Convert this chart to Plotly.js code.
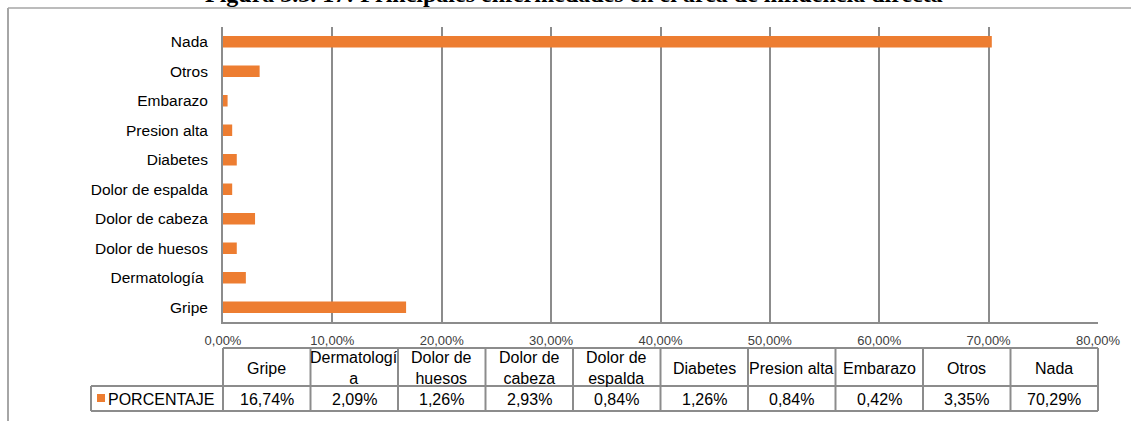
<!DOCTYPE html>
<html>
<head>
<meta charset="utf-8">
<script src="https://cdn.plot.ly/plotly-3.0.1.min.js"></script>
<style>html,body{margin:0;padding:0;background:#fff;}#chart{width:1131px;height:421px;}</style>
</head>
<body>
<div id="chart"></div>
<script>
// ---- data ----
const categories = ["Gripe", "Dermatología ", "Dolor de huesos", "Dolor de cabeza", "Dolor de espalda", "Diabetes", "Presion alta", "Embarazo", "Otros", "Nada"];
const headerLabels = ["Gripe", "Dermatologí<br>a", "Dolor de<br>huesos", "Dolor de<br>cabeza", "Dolor de<br>espalda", "Diabetes", "Presion alta", "Embarazo", "Otros", "Nada"];
const porcentaje = [16.74, 2.09, 1.26, 2.93, 0.84, 1.26, 0.84, 0.42, 3.35, 70.29];
const seriesName = "PORCENTAJE";
const xTicks = [0, 10, 20, 30, 40, 50, 60, 70, 80];
const titleText = "Figura 3.3. 17: Principales enfermedades en el área de influencia directa";

const fmtPct = v => v.toFixed(2).replace(".", ",") + "%";

// ---- layout geometry (pixels) ----
const W = 1131, H = 421;
const L = 223, R = 1098, T = 27, B = 322;
const pw = R - L, ph = B - T;
const px = p => (p - L) / pw;
const py = p => (B - p) / ph;

const ORANGE = "#ED7D31";
const GRID = "#8c8c8c";
const BORDER = "#8c8c8c";
const FONT = "Liberation Sans, Arial, sans-serif";

const tableTop = 348, tableMid = 386, tableBot = 411, legendLeft = 91;

const shapes = [];
const annotations = [];
const n = categories.length;

// outer chart border (left + top)
shapes.push({type: "line", xref: "paper", yref: "paper", x0: px(8), x1: px(8), y0: py(8), y1: py(430), line: {color: "#a6a6a6", width: 2}});
shapes.push({type: "line", xref: "paper", yref: "paper", x0: px(8), x1: px(1140), y0: py(8), y1: py(8), line: {color: "#a6a6a6", width: 1.5}});

// table horizontal lines
shapes.push({type: "line", xref: "paper", yref: "paper", x0: 0, x1: 1, y0: py(tableTop), y1: py(tableTop), line: {color: BORDER, width: 2}});
shapes.push({type: "line", xref: "paper", yref: "paper", x0: px(legendLeft), x1: 1, y0: py(tableMid), y1: py(tableMid), line: {color: BORDER, width: 2}});
shapes.push({type: "line", xref: "paper", yref: "paper", x0: px(legendLeft), x1: 1, y0: py(tableBot), y1: py(tableBot), line: {color: BORDER, width: 2}});
// legend cell left
shapes.push({type: "line", xref: "paper", yref: "paper", x0: px(legendLeft), x1: px(legendLeft), y0: py(tableMid), y1: py(tableBot), line: {color: BORDER, width: 2}});
// vertical column lines
for (let i = 0; i <= n; i++) {
  const xf = i / n;
  shapes.push({type: "line", xref: "paper", yref: "paper", x0: xf, x1: xf, y0: py(tableTop), y1: py(tableBot), line: {color: BORDER, width: 2}});
}
// legend marker
shapes.push({type: "rect", xref: "paper", yref: "paper", x0: px(97), x1: px(105), y0: py(394), y1: py(402), fillcolor: ORANGE, line: {width: 0}});
annotations.push({xref: "paper", yref: "paper", x: px(106), y: py((tableMid + tableBot) / 2 + 1), xanchor: "left", yanchor: "middle", text: seriesName, showarrow: false, font: {family: FONT, size: 16, color: "#000"}});

// header + values
for (let i = 0; i < n; i++) {
  const xc = (i + 0.5) / n;
  annotations.push({xref: "paper", yref: "paper", x: xc, y: py((tableTop + tableMid) / 2 + 1), xanchor: "center", yanchor: "middle", text: headerLabels[i], showarrow: false, font: {family: FONT, size: 16, color: "#000"}});
  annotations.push({xref: "paper", yref: "paper", x: xc, y: py((tableMid + tableBot) / 2 + 1), xanchor: "center", yanchor: "middle", text: fmtPct(porcentaje[i]), showarrow: false, font: {family: FONT, size: 16, color: "#000"}});
}

// title (cut off at top)
annotations.push({xref: "paper", yref: "paper", x: px(574), y: py(9), xanchor: "center", yanchor: "bottom", text: "<b>" + titleText + "</b>", showarrow: false, font: {family: "Liberation Serif, Times New Roman, serif", size: 24, color: "#000"}});

const trace = {
  type: "bar",
  orientation: "h",
  x: porcentaje,
  y: categories,
  name: seriesName,
  marker: {color: ORANGE},
  width: 0.39,
  hoverinfo: "x+y"
};

const layout = {
  width: W, height: H,
  margin: {l: L, r: W - R, t: T, b: H - B, pad: 0},
  paper_bgcolor: "#fff", plot_bgcolor: "#fff",
  separators: ",.",
  showlegend: false,
  xaxis: {
    range: [0, 80], tickmode: "array", tickvals: xTicks, ticktext: xTicks.map(fmtPct),
    showgrid: true, gridcolor: GRID, gridwidth: 2,
    showline: true, linecolor: GRID, linewidth: 2,
    zeroline: false, ticks: "", ticklabelstandoff: 5,
    tickfont: {family: FONT, size: 13, color: "#404040"},
    fixedrange: true
  },
  yaxis: {
    type: "category", categoryorder: "array", categoryarray: categories,
    showgrid: false, showline: true, linecolor: GRID, linewidth: 2,
    zeroline: false, ticks: "", ticklabelstandoff: 10,
    tickfont: {family: FONT, size: 15.5, color: "#000"},
    fixedrange: true
  },
  shapes: shapes,
  annotations: annotations
};

Plotly.newPlot("chart", [trace], layout, {displayModeBar: false, staticPlot: true});
</script>
</body>
</html>
